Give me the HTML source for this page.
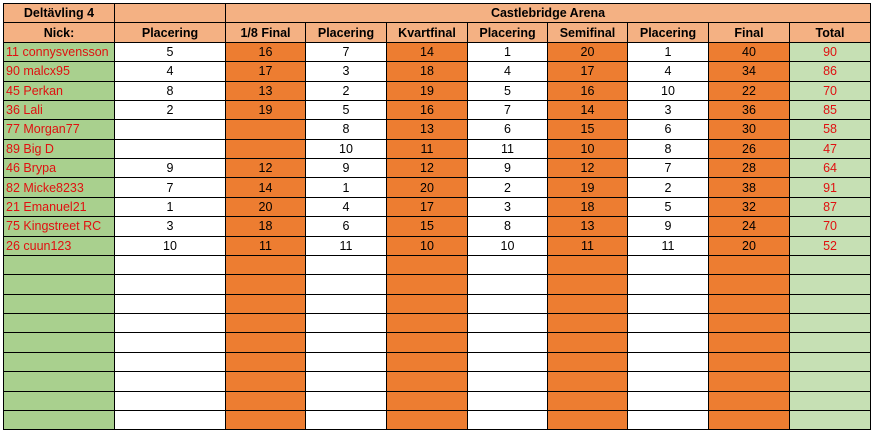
<!DOCTYPE html>
<html><head><meta charset="utf-8"><style>
body{margin:0;background:#fff;width:877px;height:436px;overflow:hidden}
table{position:absolute;left:3px;top:3px;border-collapse:collapse;table-layout:fixed;width:867px;font-family:"Liberation Sans",sans-serif;font-size:12.5px}
td{border:1.5px solid #000;height:18.38px;padding:0;text-align:center;white-space:nowrap;overflow:hidden;line-height:16px}
.h{background:#F4B183;font-weight:bold}
.n{background:#A9D08E;color:#e01010;text-align:left;padding-left:2px}
.o{background:#ED7D31}
.t{background:#C6E0B4;color:#e01010}
</style></head><body>
<table>
<colgroup><col style="width:111px"><col style="width:111px"><col style="width:80px"><col style="width:81px"><col style="width:81px"><col style="width:80px"><col style="width:80px"><col style="width:81px"><col style="width:81px"><col style="width:81px"></colgroup>
<tr><td class="h">Deltävling 4</td><td class="h"></td><td class="h" colspan="8">Castlebridge Arena</td></tr>
<tr><td class="h">Nick:</td><td class="h">Placering</td><td class="h">1/8 Final</td><td class="h">Placering</td><td class="h">Kvartfinal</td><td class="h">Placering</td><td class="h">Semifinal</td><td class="h">Placering</td><td class="h">Final</td><td class="h">Total</td></tr>
<tr><td class="n">11 connysvensson</td><td>5</td><td class="o">16</td><td>7</td><td class="o">14</td><td>1</td><td class="o">20</td><td>1</td><td class="o">40</td><td class="t">90</td></tr>
<tr><td class="n">90 malcx95</td><td>4</td><td class="o">17</td><td>3</td><td class="o">18</td><td>4</td><td class="o">17</td><td>4</td><td class="o">34</td><td class="t">86</td></tr>
<tr><td class="n">45 Perkan</td><td>8</td><td class="o">13</td><td>2</td><td class="o">19</td><td>5</td><td class="o">16</td><td>10</td><td class="o">22</td><td class="t">70</td></tr>
<tr><td class="n">36 Lali</td><td>2</td><td class="o">19</td><td>5</td><td class="o">16</td><td>7</td><td class="o">14</td><td>3</td><td class="o">36</td><td class="t">85</td></tr>
<tr><td class="n">77 Morgan77</td><td></td><td class="o"></td><td>8</td><td class="o">13</td><td>6</td><td class="o">15</td><td>6</td><td class="o">30</td><td class="t">58</td></tr>
<tr><td class="n">89 Big D</td><td></td><td class="o"></td><td>10</td><td class="o">11</td><td>11</td><td class="o">10</td><td>8</td><td class="o">26</td><td class="t">47</td></tr>
<tr><td class="n">46 Brypa</td><td>9</td><td class="o">12</td><td>9</td><td class="o">12</td><td>9</td><td class="o">12</td><td>7</td><td class="o">28</td><td class="t">64</td></tr>
<tr><td class="n">82 Micke8233</td><td>7</td><td class="o">14</td><td>1</td><td class="o">20</td><td>2</td><td class="o">19</td><td>2</td><td class="o">38</td><td class="t">91</td></tr>
<tr><td class="n">21 Emanuel21</td><td>1</td><td class="o">20</td><td>4</td><td class="o">17</td><td>3</td><td class="o">18</td><td>5</td><td class="o">32</td><td class="t">87</td></tr>
<tr><td class="n">75 Kingstreet RC</td><td>3</td><td class="o">18</td><td>6</td><td class="o">15</td><td>8</td><td class="o">13</td><td>9</td><td class="o">24</td><td class="t">70</td></tr>
<tr><td class="n">26 cuun123</td><td>10</td><td class="o">11</td><td>11</td><td class="o">10</td><td>10</td><td class="o">11</td><td>11</td><td class="o">20</td><td class="t">52</td></tr>
<tr><td class="n"></td><td></td><td class="o"></td><td></td><td class="o"></td><td></td><td class="o"></td><td></td><td class="o"></td><td class="t"></td></tr>
<tr><td class="n"></td><td></td><td class="o"></td><td></td><td class="o"></td><td></td><td class="o"></td><td></td><td class="o"></td><td class="t"></td></tr>
<tr><td class="n"></td><td></td><td class="o"></td><td></td><td class="o"></td><td></td><td class="o"></td><td></td><td class="o"></td><td class="t"></td></tr>
<tr><td class="n"></td><td></td><td class="o"></td><td></td><td class="o"></td><td></td><td class="o"></td><td></td><td class="o"></td><td class="t"></td></tr>
<tr><td class="n"></td><td></td><td class="o"></td><td></td><td class="o"></td><td></td><td class="o"></td><td></td><td class="o"></td><td class="t"></td></tr>
<tr><td class="n"></td><td></td><td class="o"></td><td></td><td class="o"></td><td></td><td class="o"></td><td></td><td class="o"></td><td class="t"></td></tr>
<tr><td class="n"></td><td></td><td class="o"></td><td></td><td class="o"></td><td></td><td class="o"></td><td></td><td class="o"></td><td class="t"></td></tr>
<tr><td class="n"></td><td></td><td class="o"></td><td></td><td class="o"></td><td></td><td class="o"></td><td></td><td class="o"></td><td class="t"></td></tr>
<tr><td class="n"></td><td></td><td class="o"></td><td></td><td class="o"></td><td></td><td class="o"></td><td></td><td class="o"></td><td class="t"></td></tr>
</table>
</body></html>
